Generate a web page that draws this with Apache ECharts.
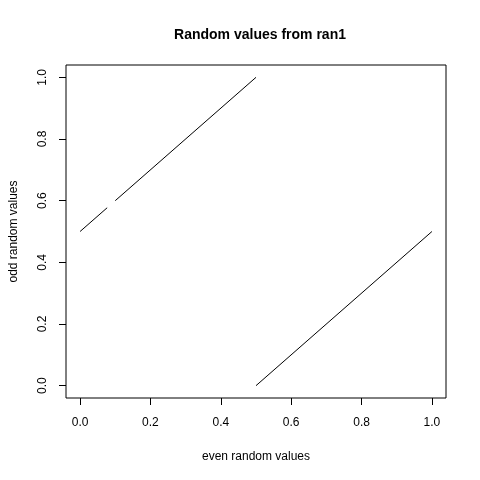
<!DOCTYPE html>
<html><head><meta charset="utf-8">
<script src="https://cdn.jsdelivr.net/npm/echarts@6/dist/echarts.min.js"></script>
<style>html,body{margin:0;padding:0;background:#fff}#c{width:480px;height:480px}</style>
</head><body><div id="c"></div>
<script>
// Segments (the dense points form straight runs)
var upperA_x = [0.0, 0.077];
var upperA_y = [0.5, 0.577];
var upperB_x = [0.1, 0.5];
var upperB_y = [0.6, 1.0];
var lower_x = [0.5, 1.0];
var lower_y = [0.0, 0.5];
var xTicks = [0, 0.2, 0.4, 0.6, 0.8, 1.0];
var yTicks = [0, 0.2, 0.4, 0.6, 0.8, 1.0];
var titleText = 'Random values from ran1';
var xTitle = 'even random values';
var yTitle = 'odd random values';

function pairs(xs, ys){ return xs.map(function(x,i){ return [x, ys[i]]; }); }
var FONT = '"Liberation Sans", Arial, Helvetica, sans-serif';
var chart = echarts.init(document.getElementById('c'), null, {renderer:'canvas'});
function seg(xs, ys){
  return {type:'line', data:pairs(xs, ys), symbol:'none', silent:true, animation:false,
    lineStyle:{color:'#000', width:1}};
}
chart.setOption({
  animation:false,
  backgroundColor:'#fff',
  title:{text:titleText, left:255, top:23, textAlign:'center',
    textStyle:{fontFamily:FONT, fontSize:14, fontWeight:'bold', color:'#000'}},
  grid:{left:65, top:65, right:34, bottom:82, show:true, borderColor:'#000', borderWidth:1, backgroundColor:'transparent'},
  xAxis:{type:'value', min:-0.04, max:1.04,
    name:xTitle, nameLocation:'middle', nameGap:53,
    nameTextStyle:{fontFamily:FONT, fontSize:12, color:'#000'},
    axisLine:{show:false, onZero:false}, splitLine:{show:false},
    axisTick:{show:true, inside:false, length:7, customValues:xTicks, lineStyle:{color:'#000', width:1}},
    axisLabel:{customValues:xTicks, margin:19, fontFamily:FONT, fontSize:12, color:'#000',
      formatter:function(v){return v.toFixed(1);}}},
  yAxis:{type:'value', min:-0.04, max:1.04,
    name:yTitle, nameLocation:'middle', nameGap:46, nameRotate:90,
    nameTextStyle:{fontFamily:FONT, fontSize:12, color:'#000'},
    axisLine:{show:false, onZero:false}, splitLine:{show:false},
    axisTick:{show:true, inside:false, length:7, customValues:yTicks, lineStyle:{color:'#000', width:1}},
    axisLabel:{customValues:yTicks, margin:17, rotate:90, fontFamily:FONT, fontSize:12, color:'#000',
      formatter:function(v){return v.toFixed(1);}}},
  series:[seg(upperA_x, upperA_y), seg(upperB_x, upperB_y), seg(lower_x, lower_y)]
});
</script></body></html>
